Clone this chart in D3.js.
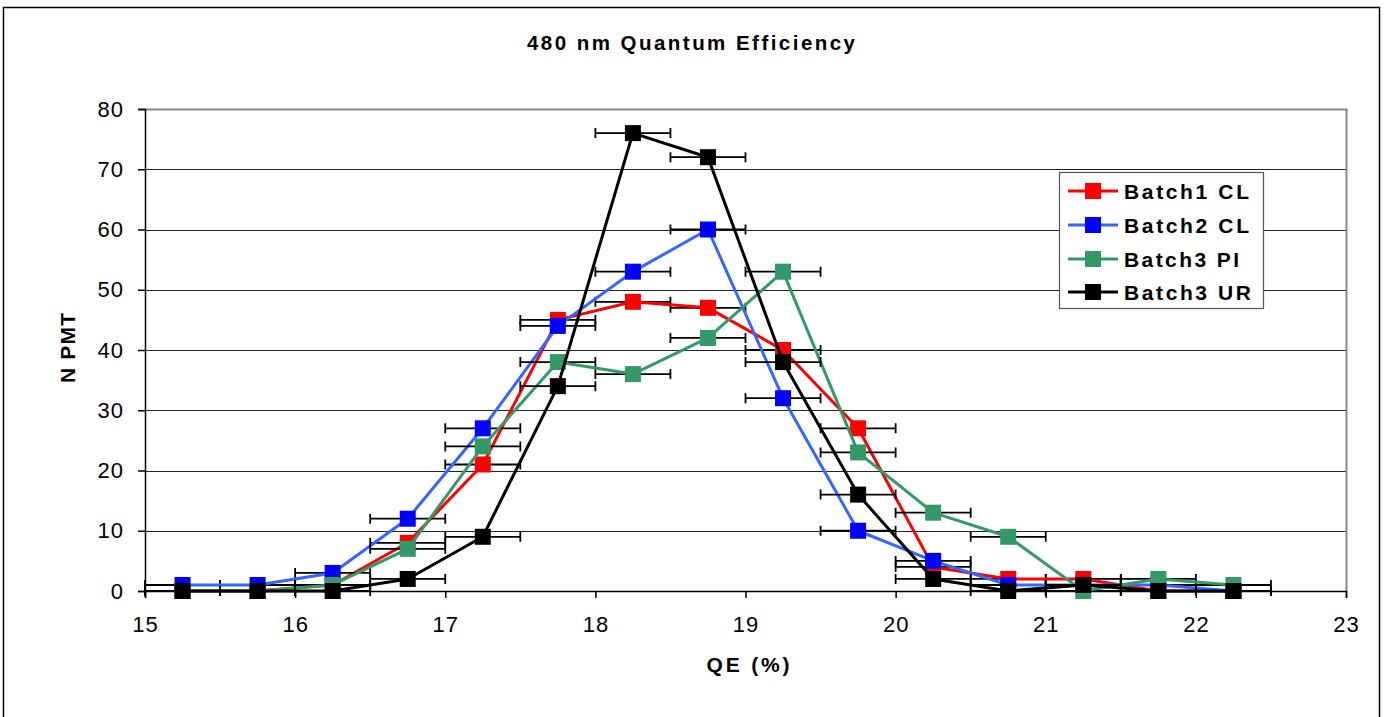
<!DOCTYPE html>
<html>
<head>
<meta charset="utf-8">
<script src="https://cdn.jsdelivr.net/npm/d3@7"></script>
<style>
  html, body { margin: 0; padding: 0; background: #fff; }
  svg { display: block; }
</style>
</head>
<body>
<svg id="chart" width="1386" height="717"></svg>
<script>
// QE bin centres (%) and PMT counts per batch
const qeBins = [15.25, 15.75, 16.25, 16.75, 17.25, 17.75, 18.25, 18.75, 19.25, 19.75, 20.25, 20.75, 21.25, 21.75, 22.25];
const batch1CL = [0, 0, 1, 8, 21, 45, 48, 47, 40, 27, 4, 2, 2, 0, 0];
const batch2CL = [1, 1, 3, 12, 27, 44, 53, 60, 32, 10, 5, 1, 1, 1, 0];
const batch3PI = [0, 0, 1, 7, 24, 38, 36, 42, 53, 23, 13, 9, 0, 2, 1];
const batch3UR = [0, 0, 0, 2, 9, 34, 76, 72, 38, 16, 2, 0, 1, 0, 0];
const binHalfWidth = 0.25;

const xTicks = [15, 16, 17, 18, 19, 20, 21, 22, 23];
const yTicks = [0, 10, 20, 30, 40, 50, 60, 70, 80];

const seriesNames = ["Batch1 CL", "Batch2 CL", "Batch3 PI", "Batch3 UR"];
const seriesValues = [batch1CL, batch2CL, batch3PI, batch3UR];

const styles = [
  { line: "#ff0000", marker: "#ff0000", legendWidth: 125 },
  { line: "#3366ff", marker: "#0000ff", legendWidth: 125 },
  { line: "#339966", marker: "#339966", legendWidth: 115 },
  { line: "#000000", marker: "#000000", legendWidth: 127 }
];

const svg = d3.select("#chart");
const font = "Liberation Sans, Arial, sans-serif";

const plotLeft = 145, plotRight = 1346, plotTop = 109, plotBottom = 591;
const x = d3.scaleLinear().domain([15, 23]).range([plotLeft, plotRight]);
const y = d3.scaleLinear().domain([0, 80]).range([plotBottom, plotTop]);

// outer chart frame
svg.append("rect")
  .attr("x", 3.5).attr("y", 7.5)
  .attr("width", 1376).attr("height", 720)
  .attr("fill", "#fff").attr("stroke", "#000").attr("stroke-width", 1.5);

// title
svg.append("text")
  .attr("x", 691).attr("y", 50)
  .attr("text-anchor", "middle")
  .attr("font-family", font).attr("font-weight", "bold").attr("font-size", 20.5)
  .attr("textLength", 328).attr("lengthAdjust", "spacing")
  .text("480 nm Quantum Efficiency");

// horizontal gridlines
svg.append("g")
  .selectAll("line")
  .data(yTicks.filter(d => d > 0 && d < 80))
  .join("line")
  .attr("x1", plotLeft).attr("x2", plotRight)
  .attr("y1", d => Math.round(y(d)) + 0.5).attr("y2", d => Math.round(y(d)) + 0.5)
  .attr("stroke", "#222").attr("stroke-width", 1);

// plot-area frame (top and right)
svg.append("path")
  .attr("d", `M${plotLeft},${plotTop + 0.5}H${plotRight + 0.5}V${plotBottom}`)
  .attr("fill", "none").attr("stroke", "#888").attr("stroke-width", 2);

// axes
const xAxis = svg.append("g")
  .attr("transform", `translate(0,${plotBottom})`)
  .call(d3.axisBottom(x).tickValues(xTicks).tickSize(7).tickPadding(18).tickFormat(d3.format("d")));
const yAxis = svg.append("g")
  .attr("transform", `translate(${plotLeft},0)`)
  .call(d3.axisLeft(y).tickValues(yTicks).tickSize(7).tickPadding(14).tickFormat(d3.format("d")));

[xAxis, yAxis].forEach(g => {
  g.select(".domain").attr("stroke", "#000").attr("stroke-width", 1.5);
  g.selectAll(".tick line").attr("stroke", "#000").attr("stroke-width", 1.5);
  g.selectAll(".tick text")
    .attr("font-family", font).attr("font-size", 22).attr("fill", "#000")
    .style("letter-spacing", "1px");
});

// axis titles
svg.append("text")
  .attr("x", 748).attr("y", 672)
  .attr("text-anchor", "middle")
  .attr("font-family", font).attr("font-weight", "bold").attr("font-size", 21)
  .attr("textLength", 83).attr("lengthAdjust", "spacing")
  .text("QE (%)");

svg.append("text")
  .attr("transform", "translate(75,348) rotate(-90)")
  .attr("text-anchor", "middle")
  .attr("font-family", font).attr("font-weight", "bold").attr("font-size", 21)
  .attr("textLength", 70).attr("lengthAdjust", "spacing")
  .text("N PMT");

// data series: error bars, line, markers
const markerSize = 16, capHalf = 5;
const line = d3.line().x(d => x(d[0])).y(d => y(d[1]));

seriesValues.forEach((vals, i) => {
  const pts = qeBins.map((q, j) => [q, vals[j]]);
  const g = svg.append("g");

  const eb = g.append("g").attr("stroke", "#000").attr("stroke-width", 1.8).attr("fill", "none");
  eb.selectAll("path")
    .data(pts)
    .join("path")
    .attr("d", d => {
      const x0 = x(d[0] - binHalfWidth), x1 = x(d[0] + binHalfWidth), yy = y(d[1]);
      return `M${x0},${yy}H${x1}M${x0},${yy - capHalf}V${yy + capHalf}M${x1},${yy - capHalf}V${yy + capHalf}`;
    });

  g.append("path")
    .datum(pts)
    .attr("d", line)
    .attr("fill", "none")
    .attr("stroke", styles[i].line)
    .attr("stroke-width", 3)
    .attr("stroke-linejoin", "round");

  g.selectAll("rect")
    .data(pts)
    .join("rect")
    .attr("x", d => x(d[0]) - markerSize / 2)
    .attr("y", d => y(d[1]) - markerSize / 2)
    .attr("width", markerSize).attr("height", markerSize)
    .attr("fill", styles[i].marker);
});

// legend
const legend = svg.append("g");
legend.append("rect")
  .attr("x", 1059.5).attr("y", 172.5)
  .attr("width", 204).attr("height", 136)
  .attr("fill", "#fff").attr("stroke", "#555").attr("stroke-width", 1.2);

const rowY = [191, 225, 259, 292];
seriesNames.forEach((name, i) => {
  const ly = rowY[i];
  legend.append("line")
    .attr("x1", 1068).attr("x2", 1118)
    .attr("y1", ly).attr("y2", ly)
    .attr("stroke", styles[i].line).attr("stroke-width", 3);
  legend.append("rect")
    .attr("x", 1093 - markerSize / 2).attr("y", ly - markerSize / 2)
    .attr("width", markerSize).attr("height", markerSize)
    .attr("fill", styles[i].marker);
  legend.append("text")
    .attr("x", 1124).attr("y", ly + 7.5)
    .attr("font-family", font).attr("font-weight", "bold").attr("font-size", 21)
    .attr("textLength", styles[i].legendWidth).attr("lengthAdjust", "spacing")
    .text(name);
});
</script>
</body>
</html>
